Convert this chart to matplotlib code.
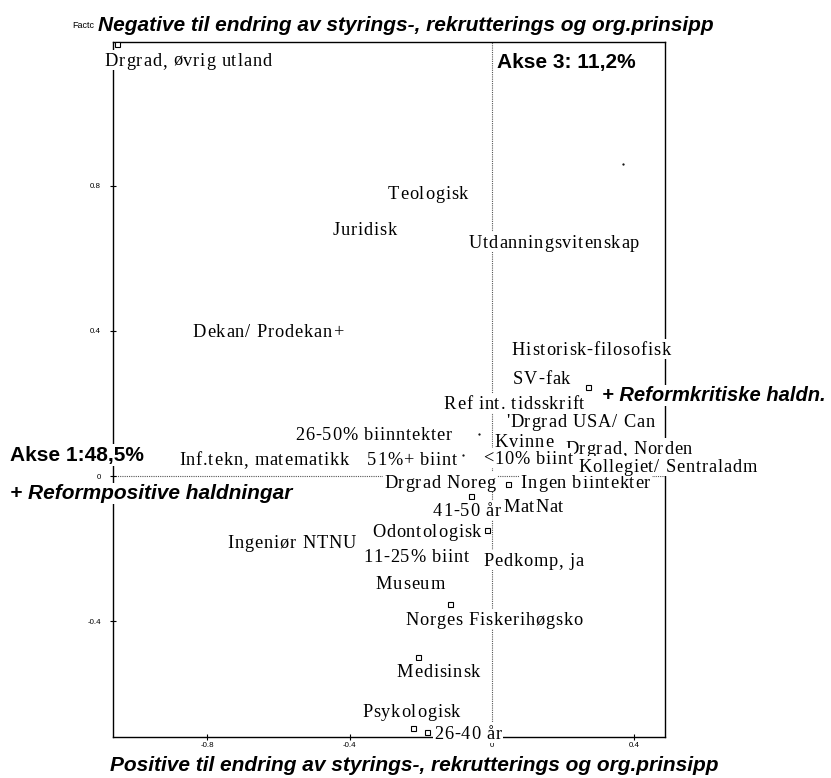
import matplotlib
matplotlib.use("Agg")
import matplotlib.pyplot as plt
from matplotlib import font_manager
from matplotlib.ft2font import FT2Font
from matplotlib.patches import Rectangle
import matplotlib.transforms as mtransforms

# category labels with coordinates on axis 1 (x) / axis 3 (y), label baseline anchor
labels = [
    "Drgrad, øvrig utland", "Teologisk", "Juridisk", "Utdanningsvitenskap",
    "Dekan/ Prodekan+", "Historisk-filosofisk", "SV-fak", "Ref int. tidsskrift",
    "'Drgrad USA/ Can", "26-50% biinntekter", "Drgrad, Norden", "Kvinne",
    "Inf.tekn, matematikk", "51%+ biint", "<10% biint", "Drgrad Noreg",
    "Ingen biintekter", "Kollegiet/ Sentraladm", "MatNat", "41-50 år",
    "Odontologisk", "Ingeniør NTNU", "11-25% biint", "Pedkomp, ja", "Museum",
    "Norges Fiskerihøgsko", "Medisinsk", "Psykologisk", "26-40 år",
]
label_x = [
    -1.087, -0.292, -0.447, -0.065,
    -0.840, 0.056, 0.059, -0.135,
    0.039, -0.553, 0.205, 0.008,
    -0.879, -0.351, -0.025, -0.303,
    0.081, 0.242, 0.031, -0.166,
    -0.337, -0.742, -0.362, -0.025, -0.326,
    -0.244, -0.267, -0.365, -0.163,
]
label_y = [
    1.131, 0.764, 0.665, 0.629,
    0.383, 0.334, 0.254, 0.185,
    0.135, 0.099, 0.061, 0.080,
    0.030, 0.030, 0.033, -0.033,
    -0.033, 0.011, -0.099, -0.110,
    -0.168, -0.199, -0.237, -0.248, -0.312,
    -0.411, -0.554, -0.665, -0.726,
]

# point markers that are still visible next to the labels
point_x = [-1.053, 0.270, 0.045, -0.059, -0.014, -0.118, -0.208, -0.222, -0.183]
point_y = [1.192, 0.246, -0.022, -0.055, -0.149, -0.353, -0.499, -0.695, -0.706]

# points that are nearly hidden behind the label boxes
tiny_x = [0.368, -0.037, -0.081]
tiny_y = [0.861, 0.116, 0.058]

x_ticks = [-0.8, -0.4, 0, 0.4]
x_ticklabels = ["-0.8", "-0.4", "0", "0.4"]
y_ticks = [-0.4, 0, 0.4, 0.8]
y_ticklabels = ["-0.4", "0", "0.4", "0.8"]

title_top = "Negative til endring av styrings-, rekrutterings og org.prinsipp"
title_bottom = "Positive til endring av styrings-, rekrutterings og org.prinsipp"
axis1_note = "Akse 1:48,5%"
axis3_note = "Akse 3: 11,2%"
pos_note = "+ Reformpositive haldningar"
crit_note = "+ Reformkritiske haldn."

W, H = 831, 778
LABEL_PT = 13.2
TRACK = 0.6  # extra letter spacing in points

fig = plt.figure(figsize=(W / 100, H / 100), dpi=100)
ax = fig.add_axes([112.7 / W, 1 - 736.7 / H, (665 - 112.7) / W, (736.7 - 42) / H])
ax.set_xlim(-1.065, 0.486)
ax.set_ylim(-0.719, 1.197)

for sp in ax.spines.values():
    sp.set_linewidth(1.0)
    sp.set_zorder(2)

ax.axhline(0, color="#555555", lw=0.8, ls=(0, (1, 1)), zorder=1)
ax.axvline(0, color="#555555", lw=0.8, ls=(0, (1, 1)), zorder=1)

ax.set_xticks(x_ticks)
ax.set_xticklabels(x_ticklabels)
ax.set_yticks(y_ticks)
ax.set_yticklabels(y_ticklabels)
ax.tick_params(direction="inout", length=5, width=0.8, labelsize=5.7, colors="black")
ax.tick_params(axis="x", pad=1)
ax.tick_params(axis="y", pad=6)
for t in ax.get_xticklabels() + ax.get_yticklabels():
    t.set_fontfamily("Liberation Sans")

ax.plot(point_x, point_y, "s", mfc="white", mec="black", ms=3.6, mew=0.8,
        ls="none", zorder=3, clip_on=False)
ax.plot(tiny_x, tiny_y, ".", color="black", ms=1.2, ls="none", zorder=3)

# serif labels with a little letter spacing, each on a white box
serif = font_manager.FontProperties(family="Liberation Serif", size=LABEL_PT)
ft = FT2Font(font_manager.findfont(serif))
ft.set_size(LABEL_PT, 72)


def advance(ch):
    g = ft.load_char(ord(ch))
    return g.linearHoriAdvance / 65536


px_per_pt = mtransforms.Affine2D().scale(fig.dpi / 72.0)
for i, (s, x, y) in enumerate(zip(labels, label_x, label_y)):
    z = 10 + 2 * i
    offs = []
    pos = 0.0
    for ch in s:
        offs.append(pos)
        pos += advance(ch) + TRACK
    width = pos - TRACK
    base = mtransforms.ScaledTranslation(x, y, ax.transData)
    box = Rectangle((-1.0, -0.23 * LABEL_PT), width + 2.0, 1.12 * LABEL_PT,
                    transform=px_per_pt + base, facecolor="white",
                    edgecolor="none", zorder=z, clip_on=False)
    ax.add_patch(box)
    for ch, o in zip(s, offs):
        ax.annotate(ch, (x, y), xytext=(o, 0), textcoords="offset points",
                    ha="left", va="baseline", fontproperties=serif,
                    zorder=z + 1, annotation_clip=False)

# notes and titles
bold_it = dict(family="Liberation Sans", weight="bold", style="italic")
fig.text(72 / W, 1 - 28 / H, "Factc", fontsize=6.5, family="Liberation Sans",
         va="baseline")
fig.text(98 / W, 1 - 30.7 / H, title_top, fontsize=15, va="baseline", **bold_it)
fig.text(110 / W, 1 - 771 / H, title_bottom, fontsize=15, va="baseline", **bold_it)
fig.text(497 / W, 1 - 68 / H, axis3_note, fontsize=15, family="Liberation Sans",
         weight="bold", va="baseline")
fig.text(10 / W, 1 - 460.7 / H, axis1_note, fontsize=15, family="Liberation Sans",
         weight="bold", va="baseline",
         bbox=dict(facecolor="white", edgecolor="none", pad=1.0))
fig.text(10 / W, 1 - 499 / H, pos_note, fontsize=15, va="baseline",
         bbox=dict(facecolor="white", edgecolor="none", pad=1.0), **bold_it)
fig.text(601.7 / W, 1 - 401 / H, crit_note, fontsize=14.5, va="baseline",
         bbox=dict(facecolor="white", edgecolor="none", pad=1.0), **bold_it)

fig.savefig("out.png", dpi=100)
